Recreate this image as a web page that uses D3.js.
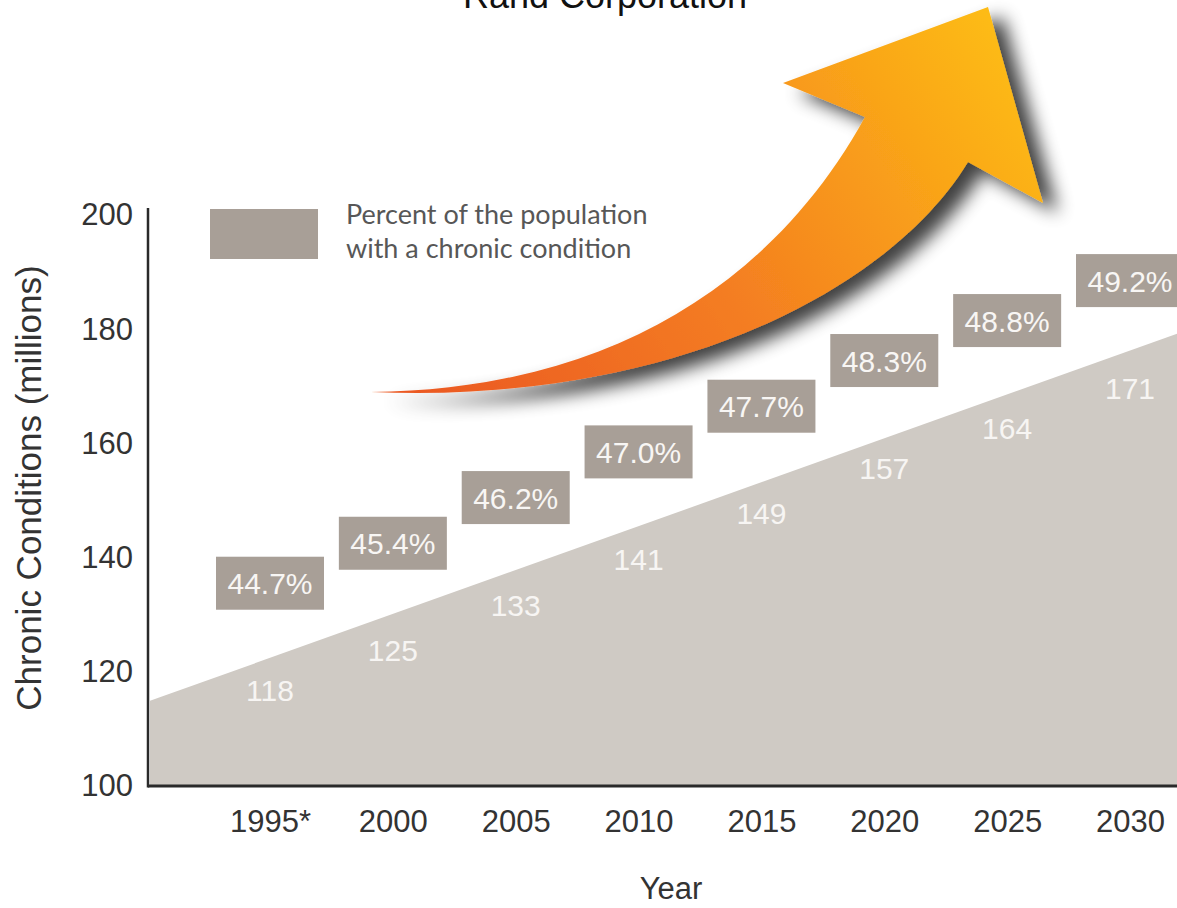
<!DOCTYPE html>
<html>
<head>
<meta charset="utf-8">
<script src="https://cdn.jsdelivr.net/npm/d3@7"></script>
<style>
  html, body { margin: 0; padding: 0; background: #ffffff; }
  svg { display: block; }
</style>
</head>
<body>
<div id="chart"></div>
<script>
// ---------------- data ----------------
const years = [1995, 2000, 2005, 2010, 2015, 2020, 2025, 2030];
const yearLabels = ["1995*", "2000", "2005", "2010", "2015", "2020", "2025", "2030"];
const chronicMillions = [118, 125, 133, 141, 149, 157, 164, 171];
const percentWithCondition = [44.7, 45.4, 46.2, 47.0, 47.7, 48.3, 48.8, 49.2];
const yTicks = [100, 120, 140, 160, 180, 200];
const titleText = "Rand Corporation";
const legendLines = ["Percent of the population", "with a chronic condition"];
const yTitle = "Chronic Conditions (millions)";
const xTitle = "Year";

// ---------------- layout ----------------
const W = 1177, H = 908;
const axisX = 148, axisY = 786;
const svg = d3.select("#chart").append("svg").attr("width", W).attr("height", H);

const x = d3.scaleLinear().domain([1995, 2030]).range([270, 1130]);
const y = d3.scaleLinear().domain([100, 200]).range([axisY, 215]);

const defs = svg.append("defs");
const grad = defs.append("linearGradient").attr("id", "arrowGrad")
  .attr("gradientUnits", "userSpaceOnUse")
  .attr("x1", 430).attr("y1", 400).attr("x2", 990).attr("y2", 20);
grad.append("stop").attr("offset", 0).attr("stop-color", "#eb5a24");
grad.append("stop").attr("offset", 0.45).attr("stop-color", "#f47d21");
grad.append("stop").attr("offset", 1).attr("stop-color", "#fdbb14");

const shadow = defs.append("filter").attr("id", "shadow")
  .attr("x", "-20%").attr("y", "-20%").attr("width", "150%").attr("height", "150%");
shadow.append("feGaussianBlur").attr("in", "SourceAlpha").attr("stdDeviation", 9).attr("result", "blur");
shadow.append("feOffset").attr("in", "blur").attr("dx", 15).attr("dy", 10).attr("result", "off");
const ct = shadow.append("feComponentTransfer").attr("in", "off").attr("result", "sh");
ct.append("feFuncA").attr("type", "linear").attr("slope", 0.75);
const mg = shadow.append("feMerge");
mg.append("feMergeNode").attr("in", "sh");
mg.append("feMergeNode").attr("in", "SourceGraphic");

// ---------------- title (cropped at top, as in the source image) ----------------
svg.append("text").attr("x", 605).attr("y", 8)
  .attr("text-anchor", "middle")
  .style("font-family", "'Liberation Sans', Arial, sans-serif")
  .style("font-size", "36px").style("fill", "#111")
  .text(titleText);

// ---------------- area (straight trend band fitted to the values) ----------------
const pts = years.map((yr, i) => ({ year: yr, v: chronicMillions[i] }));
const mx = d3.mean(pts, d => d.year), my = d3.mean(pts, d => d.v);
const slope = d3.sum(pts, d => (d.year - mx) * (d.v - my)) / d3.sum(pts, d => (d.year - mx) ** 2);
const fit = yr => my + slope * (yr - mx);
const lift = 4.6; // shaded band sits slightly above the printed values
const edges = [x.invert(axisX + 2), x.invert(W)].map(yr => ({ year: yr, v: fit(yr) }));
const area = d3.area()
  .x(d => x(d.year))
  .y0(axisY)
  .y1(d => y(d.v + lift));
svg.append("path").datum(edges).attr("d", area).attr("fill", "#cfcac4");

// value labels
svg.append("g").selectAll("text").data(pts).join("text")
  .attr("x", d => x(d.year))
  .attr("y", d => y(d.v) + 18)
  .attr("text-anchor", "middle")
  .style("font-family", "'Liberation Sans', Arial, sans-serif")
  .style("font-size", "30px").style("fill", "#f7f5f3")
  .text(d => d.v);

// percent boxes
const boxW = 108, boxH = 53, boxLift = 100;
const boxes = svg.append("g").selectAll("g").data(pts.map((d, i) => ({ ...d, p: percentWithCondition[i] })))
  .join("g")
  .attr("transform", d => `translate(${x(d.year)},${y(d.v) - boxLift})`);
boxes.append("rect").attr("x", -boxW / 2).attr("y", -boxH / 2)
  .attr("width", boxW).attr("height", boxH).attr("fill", "#a89f97");
boxes.append("text").attr("x", 0).attr("y", 11)
  .attr("text-anchor", "middle")
  .style("font-family", "'Liberation Sans', Arial, sans-serif")
  .style("font-size", "30px").style("fill", "#f8f6f4")
  .text(d => d3.format(".1f")(d.p) + "%");

// ---------------- axes ----------------
const yAxis = d3.axisLeft(y).tickValues(yTicks).tickSize(0).tickPadding(15);
const gy = svg.append("g").attr("transform", `translate(${axisX},0)`).call(yAxis);
gy.select(".domain").remove();
gy.selectAll("text")
  .style("font-family", "'Liberation Sans', Arial, sans-serif")
  .style("font-size", "31px").style("fill", "#333");

const xAxis = d3.axisBottom(x).tickValues(years).tickSize(0).tickPadding(24)
  .tickFormat((d, i) => yearLabels[i]);
const gx = svg.append("g").attr("transform", `translate(0,${axisY})`).call(xAxis);
gx.select(".domain").remove();
gx.selectAll("text")
  .style("font-family", "'Liberation Sans', Arial, sans-serif")
  .style("font-size", "31px").style("fill", "#333");

svg.append("line").attr("x1", axisX).attr("x2", axisX)
  .attr("y1", y(200) - 7).attr("y2", axisY + 1.5)
  .attr("stroke", "#2a2a2a").attr("stroke-width", 2.5);
svg.append("line").attr("x1", axisX).attr("x2", W)
  .attr("y1", axisY).attr("y2", axisY)
  .attr("stroke", "#2a2a2a").attr("stroke-width", 3);

// axis titles
svg.append("text")
  .attr("transform", `translate(41,488) rotate(-90)`)
  .attr("text-anchor", "middle")
  .style("font-family", "'Liberation Sans', Arial, sans-serif")
  .style("font-size", "35px").style("fill", "#333")
  .text(yTitle);
svg.append("text").attr("x", 671).attr("y", 899)
  .attr("text-anchor", "middle")
  .style("font-family", "'Liberation Sans', Arial, sans-serif")
  .style("font-size", "31px").style("fill", "#333")
  .text(xTitle);

// ---------------- legend ----------------
svg.append("rect").attr("x", 210).attr("y", 209).attr("width", 108).attr("height", 50)
  .attr("fill", "#a89f97");
svg.append("g").selectAll("text").data(legendLines).join("text")
  .attr("x", 346).attr("y", (d, i) => 224 + i * 34)
  .style("font-family", "Lato, 'Open Sans', sans-serif")
  .style("font-size", "27px").style("fill", "#575757")
  .text(d => d);

// ---------------- decorative arrow ----------------
const arrowPath = "M371,392 C600,390 770,290 865,117 L783,83 L988,7 L1043,203 L968,162 C890,290 670,405 371,392 Z";
svg.append("path").attr("d", arrowPath)
  .attr("fill", "url(#arrowGrad)")
  .attr("filter", "url(#shadow)");
</script>
</body>
</html>
